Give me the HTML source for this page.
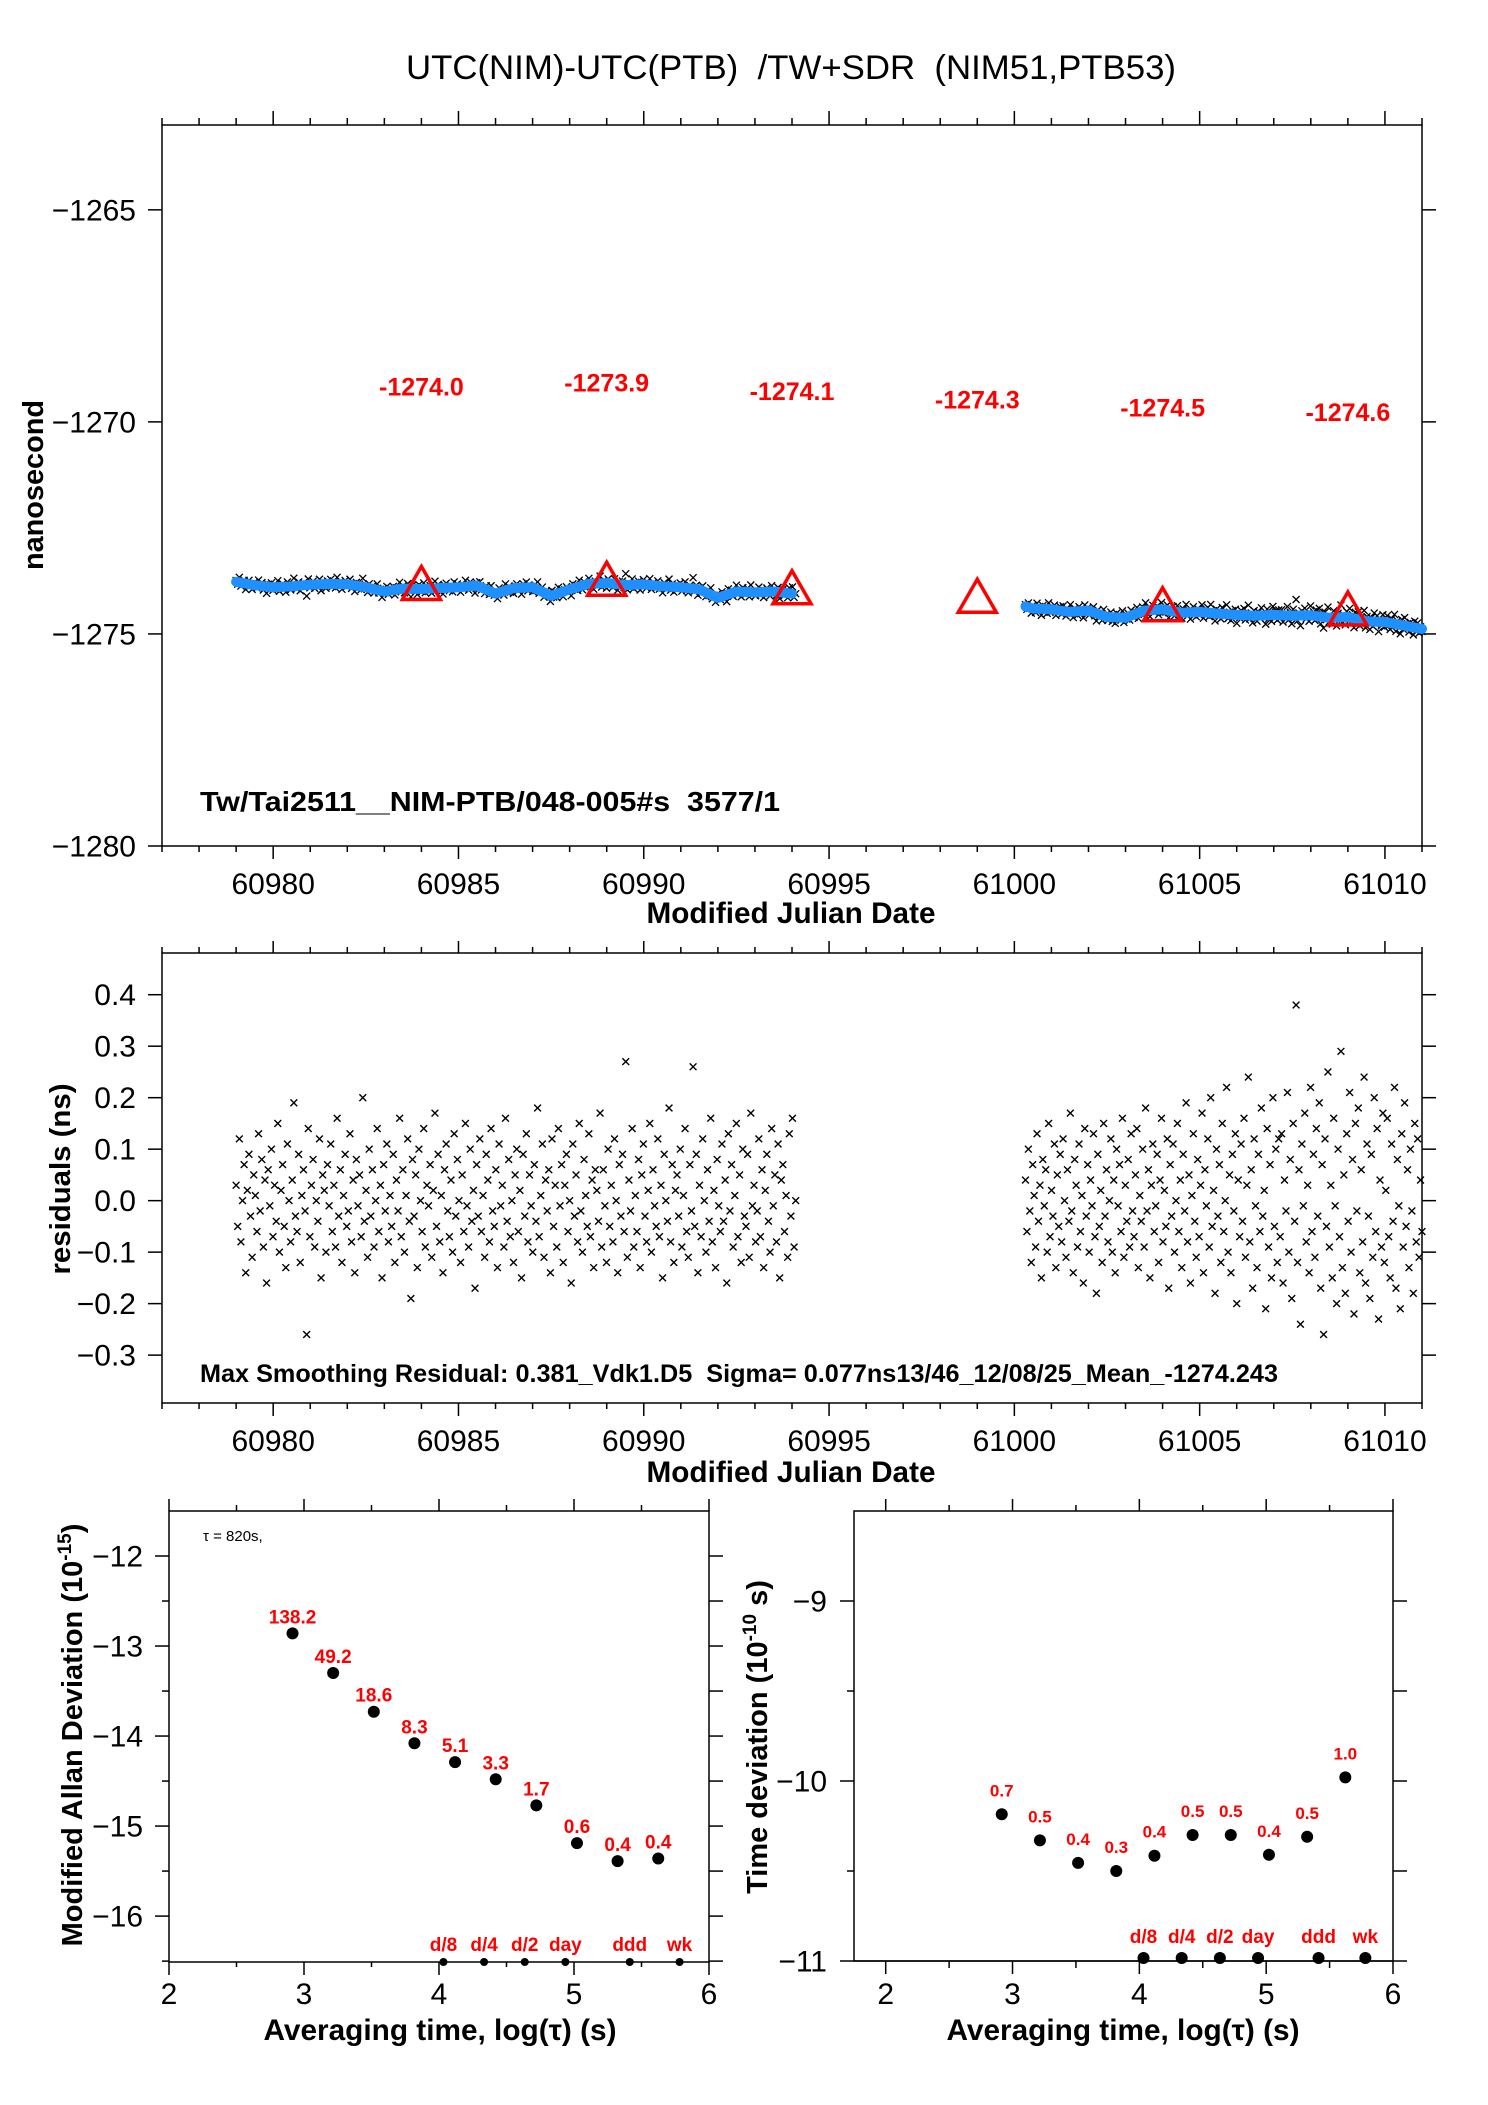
<!DOCTYPE html>
<html><head><meta charset="utf-8"><title>UTC(NIM)-UTC(PTB)</title>
<style>
html,body{margin:0;padding:0;background:#fff;}
svg{display:block;font-family:"Liberation Sans",Arial,sans-serif;}
text{white-space:pre;}
</style></head>
<body>
<svg id="chart" xmlns="http://www.w3.org/2000/svg" width="1488" height="2105" viewBox="0 0 1488 2105">
<rect x="0" y="0" width="1488" height="2105" fill="#fff"/>
</svg>
<script>
// ---------- data ----------
const smoothT1 = [60979.0,60979.5,60980.0,60980.5,60981.0,60981.5,60982.0,60982.5,60983.0,60983.5,60984.0,60984.5,60985.0,60985.5,60986.0,60986.5,60987.0,60987.5,60988.0,60988.5,60989.0,60989.5,60990.0,60990.5,60991.0,60991.5,60992.0,60992.5,60993.0,60993.5,60994.0];
const smoothV1 = [-1273.77,-1273.85,-1273.9,-1273.88,-1273.84,-1273.82,-1273.83,-1273.9,-1274.0,-1273.93,-1273.94,-1273.92,-1273.9,-1273.86,-1274.05,-1273.92,-1273.9,-1274.1,-1273.95,-1273.82,-1273.8,-1273.85,-1273.83,-1273.88,-1273.9,-1273.95,-1274.15,-1274.0,-1274.02,-1274.0,-1274.05];
const smoothT2 = [61000.3,61000.5,61001.0,61001.5,61002.0,61002.5,61003.0,61003.5,61004.0,61004.5,61005.0,61005.5,61006.0,61006.5,61007.0,61007.5,61008.0,61008.5,61009.0,61009.5,61010.0,61010.5,61011.0];
const smoothV2 = [-1274.35,-1274.4,-1274.42,-1274.48,-1274.45,-1274.6,-1274.62,-1274.45,-1274.42,-1274.5,-1274.48,-1274.52,-1274.55,-1274.57,-1274.55,-1274.57,-1274.56,-1274.62,-1274.6,-1274.7,-1274.72,-1274.8,-1274.88];
const seg1Range = [60979.0, 60994.1];
const seg2Range = [61000.3, 61011.0];
// residuals in units of 0.01 ns
const res1 = [
3,-5,12,-8,0,7,-14,2,9,-3,-11,5,1,-6,13,-2,8,-9,4,-16,6,-1,10,-7,3,
-4,15,-10,2,7,-5,-13,11,0,-8,4,19,-3,-6,9,-12,1,6,-2,-26,14,-7,3,8,-9,
0,-4,12,-15,5,2,-10,7,-1,11,-6,3,-9,16,-3,6,-12,1,9,-5,-2,13,-8,4,-14,
8,-1,5,-7,20,-4,2,-11,10,-3,6,-9,0,14,-6,3,-15,7,-2,11,-8,1,-5,9,-12,
4,-2,16,-7,6,-10,1,12,-4,-19,8,-3,5,-13,10,0,-6,14,-9,3,-1,7,-11,2,17,
-5,9,-8,1,-14,6,11,-2,-7,4,-10,13,-3,8,0,-12,5,-6,15,-1,-9,10,-4,2,-17,
7,-3,12,-6,1,-11,9,4,-8,14,-2,-5,6,-13,11,-1,3,-9,16,-4,8,-7,0,-12,5,
10,-6,2,-15,9,-3,13,-8,5,-1,-10,7,-4,18,-7,1,11,-11,4,-2,6,-14,12,-5,3,
-9,14,-1,7,-12,3,9,-6,0,-16,11,-3,5,-8,15,-2,-10,8,1,-5,13,-7,4,-13,6,
2,-4,17,-9,6,-1,-12,10,-5,3,-8,12,0,-14,7,-3,9,-6,27,-11,4,-2,14,-9,1,
-6,8,-13,5,11,-3,-8,2,15,-10,6,-1,-5,12,-7,3,-15,9,0,-4,18,-8,7,-12,2,
5,-3,10,-9,1,14,-6,-11,7,-2,26,-5,9,-14,3,-7,12,0,-10,6,-4,16,-8,2,-13,
8,-1,-6,11,-4,4,-16,13,-2,7,-9,1,15,-7,5,-12,10,-3,-5,9,-11,17,-1,3,-8,
-2,12,-7,6,-13,2,9,-4,-10,14,-1,5,-8,11,-15,4,7,-6,1,-11,13,-3,16,-9,0];
const res2 = [
4,-6,10,-2,-12,7,1,-9,13,-4,3,-15,8,-1,6,-10,15,-7,2,-3,11,-13,5,-5,9,
-8,12,0,-11,6,-4,17,-2,-14,8,3,-9,11,-6,1,-16,14,-3,7,-10,4,-1,13,-7,-18,
9,-5,2,-12,15,-3,6,-8,0,12,-10,4,-14,10,-1,7,-6,16,-11,3,-4,8,-9,13,-2,
-7,5,14,-13,1,-4,10,-9,18,-2,6,-15,3,11,-6,-1,9,-12,4,16,-8,2,-5,12,-17,
7,-3,11,-10,0,15,-6,4,-13,9,-2,19,-8,5,-16,1,13,-4,-11,8,-7,3,17,-14,6,
-1,12,-9,20,-5,2,-18,10,-3,7,-12,15,-6,0,22,-10,5,-14,9,-2,13,-20,4,-7,11,
-4,16,-11,3,24,-8,6,-17,12,-1,-13,9,-6,18,-3,2,-21,14,-9,7,-15,20,-5,10,-12,
12,-7,13,-16,4,-2,21,-10,8,-19,15,-4,38,-12,6,-24,11,-1,17,-8,3,-14,22,-6,9,
-11,14,-3,19,-17,7,-26,12,-5,25,-9,3,-15,16,-1,-20,10,-7,29,-13,5,-18,13,-4,21,
-10,8,-22,15,-2,18,-14,6,-8,24,-16,11,-3,-19,9,-11,20,-6,14,-23,4,-9,17,-12,2,
16,-7,-15,11,-4,22,-17,8,-1,-21,13,-9,19,-5,6,-13,10,-2,-18,15,-8,12,-11,4,-6];
const triMjd = [60984,60989,60994,60999,61004,61009];
const triVal = [-1274.0,-1273.9,-1274.1,-1274.3,-1274.5,-1274.6];
const topYTicks = [-1265,-1270,-1275,-1280];
const topYTickLabels = ["\u22121265","\u22121270","\u22121275","\u22121280"];
const mjdTickLabels = ["60980","60985","60990","60995","61000","61005","61010"];
const resYTicks = [0.4,0.3,0.2,0.1,0.0,-0.1,-0.2,-0.3];
const resYTickLabels = ["0.4","0.3","0.2","0.1","0.0","\u22120.1","\u22120.2","\u22120.3"];
const tauLog = [2.915,3.216,3.517,3.818,4.119,4.42,4.721,5.022,5.323,5.624];
const adevVal = [-12.86,-13.30,-13.73,-14.08,-14.29,-14.48,-14.77,-15.19,-15.39,-15.36];
const adevLbl = ["138.2","49.2","18.6","8.3","5.1","3.3","1.7","0.6","0.4","0.4"];
const tdevVal = [-10.185,-10.33,-10.455,-10.50,-10.415,-10.30,-10.30,-10.41,-10.31,-9.98];
const tdevLbl = ["0.7","0.5","0.4","0.3","0.4","0.5","0.5","0.4","0.5","1.0"];
const markLog = [4.033,4.334,4.635,4.936,5.413,5.782];
const markLbl = ["d/8","d/4","d/2","day","ddd","wk"];
const adevYTicks = [-12,-13,-14,-15,-16];
const adevYTickLabels = ["\u221212","\u221213","\u221214","\u221215","\u221216"];
const tdevYTicks = [-9,-10,-11];
const tdevYTickLabels = ["\u22129","\u221210","\u221211"];
const logTicks = [2,3,4,5,6];
const logTickLabels = ["2","3","4","5","6"];

// ---------- helpers ----------
const NS = "http://www.w3.org/2000/svg";
const svg = document.getElementById('chart');
function mk(tag, attrs, parent){
  const e = document.createElementNS(NS, tag);
  for (const k in attrs) e.setAttribute(k, attrs[k]);
  (parent || svg).appendChild(e);
  return e;
}
function scale(d0,d1,r0,r1){ return v => r0 + (v-d0)*(r1-r0)/(d1-d0); }
function txt(parent, x, y, s, size, opts){
  opts = opts || {};
  const a = {x:x, y:y, 'font-size':size, fill:opts.fill||'#000', 'text-anchor':opts.anchor||'middle'};
  if (opts.bold) a['font-weight'] = 'bold';
  if (opts.len) { a.textLength = opts.len; a.lengthAdjust = 'spacingAndGlyphs'; }
  if (opts.rot) a.transform = 'rotate(-90 '+x+' '+y+')';
  const t = mk('text', a, parent);
  t.textContent = s;
  return t;
}
function line(parent,x1,y1,x2,y2,w,c){
  return mk('line',{x1:x1,y1:y1,x2:x2,y2:y2,stroke:c||'#000','stroke-width':w||1.5},parent);
}
function interp(ts, vs, t){
  if (t<=ts[0]) return vs[0];
  for (let i=1;i<ts.length;i++){ if (t<=ts[i]) { const f=(t-ts[i-1])/(ts[i]-ts[i-1]); return vs[i-1]+f*(vs[i]-vs[i-1]); } }
  return vs[vs.length-1];
}
function segTimes(range, n){ const a=[]; for(let i=0;i<n;i++) a.push(range[0]+i*(range[1]-range[0])/(n-1)); return a; }
function cross(parent,x,y,h,w){
  mk('path',{d:'M'+(x-h)+' '+(y-h)+'L'+(x+h)+' '+(y+h)+'M'+(x-h)+' '+(y+h)+'L'+(x+h)+' '+(y-h),stroke:'#000','stroke-width':w||1,fill:'none'},parent);
}

// ---------- title ----------
const title = txt(svg, 791, 79, "UTC(NIM)-UTC(PTB)  /TW+SDR  (NIM51,PTB53)", 34, {len:770});



// ================= Panel 1: time series =================
const P1 = {x0:162,x1:1422,y0:125,y1:846};
const p1x = scale(60977,61011,P1.x0,P1.x1);
const p1y = scale(-1280,-1263,P1.y1,P1.y0);
const g1 = mk('g',{});


const f1 = mk('rect',{x:P1.x0,y:P1.y0,width:P1.x1-P1.x0,height:P1.y1-P1.y0,fill:'none',stroke:'#000','stroke-width':1.5},g1);


for (let d=60977; d<=61011; d++){
  const x=p1x(d), maj=(d%5===0);
  line(g1,x,P1.y0,x,P1.y0-(maj?14:7));
  line(g1,x,P1.y1,x,P1.y1+(maj?13:6));
}
topYTicks.forEach((v,i)=>{
  const y=p1y(v);
  line(g1,P1.x0-14,y,P1.x0,y);
  line(g1,P1.x1,y,P1.x1+14,y);
  const t = txt(g1,136,y+10.5,topYTickLabels[i],30,{anchor:'end'});
  
  
});
mjdTickLabels.forEach(s=>{
  const t = txt(g1,p1x(+s),894,s,30);
  
  
});
const xl1 = txt(g1,791,923,"Modified Julian Date",30,{bold:true,len:289});


const yl1 = txt(g1,43,485,"nanosecond",29,{bold:true,rot:true,len:170});


// raw points
const rawG = mk('g',{},g1);


const t1s = segTimes(seg1Range,res1.length), t2s = segTimes(seg2Range,res2.length);
t1s.forEach((t,i)=>{ cross(rawG,p1x(t),p1y(interp(smoothT1,smoothV1,t)+res1[i]/100),3.5,1.3); });
t2s.forEach((t,i)=>{ cross(rawG,p1x(t),p1y(interp(smoothT2,smoothV2,t)+res2[i]/100),3.5,1.3); });
// smoothed
[[smoothT1,smoothV1],[smoothT2,smoothV2]].forEach((s,k)=>{
  const pts = s[0].map((t,i)=>p1x(t).toFixed(1)+','+p1y(s[1][i]).toFixed(1)).join(' ');
  const pl = mk('polyline',{points:pts,fill:'none',stroke:'#1e90ff','stroke-width':10,'stroke-linejoin':'round','stroke-linecap':'round'},g1);
  
  
});
// triangles + labels
triMjd.forEach((m,i)=>{
  const x=p1x(m), y=p1y(triVal[i]);
  const tr = mk('path',{d:'M'+x+' '+(y-25)+'L'+(x+19)+' '+(y+8)+'L'+(x-19)+' '+(y+8)+'Z',fill:'none',stroke:'#ff0000','stroke-width':3.5},g1);
  
  
  const lb = txt(g1,x,y-196,triVal[i].toFixed(1),25,{bold:true,fill:'#ff0000'});
  
  
});
const info1 = txt(g1,200,811,"Tw/Tai2511__NIM-PTB/048-005#s  3577/1",28,{bold:true,anchor:'start',len:580});



// ================= Panel 2: residuals =================
const P2 = {x0:162,x1:1422,y0:953,y1:1403};
const p2x = scale(60977,61011,P2.x0,P2.x1);
const p2y = scale(-0.393,0.481,P2.y1,P2.y0);
const g2 = mk('g',{});


const f2 = mk('rect',{x:P2.x0,y:P2.y0,width:P2.x1-P2.x0,height:P2.y1-P2.y0,fill:'none',stroke:'#000','stroke-width':1.5},g2);


for (let d=60977; d<=61011; d++){
  const x=p2x(d), maj=(d%5===0);
  line(g2,x,P2.y0,x,P2.y0-(maj?12:6));
  line(g2,x,P2.y1,x,P2.y1+(maj?13:6));
}
resYTicks.forEach((v,i)=>{
  const y=p2y(v);
  line(g2,P2.x0-14,y,P2.x0,y);
  line(g2,P2.x1,y,P2.x1+14,y);
  const t = txt(g2,136,y+10.5,resYTickLabels[i],30,{anchor:'end'});
  
  
});
mjdTickLabels.forEach(s=>{
  const t = txt(g2,p2x(+s),1451,s,30);
  
  
});
const xl2 = txt(g2,791,1482,"Modified Julian Date",30,{bold:true,len:289});


const yl2 = txt(g2,70,1179,"residuals (ns)",29,{bold:true,rot:true,len:191});


const resG = mk('g',{},g2);


t1s.forEach((t,i)=>{ cross(resG,p2x(t),p2y(res1[i]/100),3.4,1.4); });
t2s.forEach((t,i)=>{ cross(resG,p2x(t),p2y(res2[i]/100),3.4,1.4); });
const info2 = txt(g2,200,1382,"Max Smoothing Residual: 0.381_Vdk1.D5  Sigma= 0.077ns13/46_12/08/25_Mean_-1274.243",25,{bold:true,anchor:'start',len:1078});



// ================= Panel 3: Modified Allan deviation =================
const P3 = {x0:169,x1:709,y0:1511,y1:1962};
const p3x = scale(2,6,P3.x0,P3.x1);
const p3y = scale(-16.51,-11.5,P3.y1,P3.y0);
const g3 = mk('g',{});


const f3 = mk('rect',{x:P3.x0,y:P3.y0,width:P3.x1-P3.x0,height:P3.y1-P3.y0,fill:'none',stroke:'#000','stroke-width':1.5},g3);


for (let k=0;k<=8;k++){
  const v=2+k*0.5, x=p3x(v), maj=(k%2===0);
  line(g3,x,P3.y0,x,P3.y0-(maj?12:6));
  line(g3,x,P3.y1,x,P3.y1+(maj?13:5));
}
for (let k=0;k<=9;k++){
  const v=-16.5+k*0.5, y=p3y(v), maj=(k%2===1);
  line(g3,P3.x0-(maj?14:7),y,P3.x0,y);
  line(g3,P3.x1,y,P3.x1+14,y);
}
adevYTicks.forEach((v,i)=>{
  const t = txt(g3,143,p3y(v)+10.5,adevYTickLabels[i],30,{anchor:'end'});
  
  
});
logTicks.forEach((v,i)=>{
  const t = txt(g3,p3x(v),2004,logTickLabels[i],30);
  
  
});
const xl3 = txt(g3,440,2040,"Averaging time, log(\u03c4) (s)",30,{bold:true,len:353});


const yl3 = mk('text',{x:82,y:1735,'font-size':29,'font-weight':'bold','text-anchor':'middle',transform:'rotate(-90 82 1735)'},g3);


yl3.appendChild(document.createTextNode("Modified Allan Deviation (10"));
const sup3 = mk('tspan',{dy:-11,'font-size':19},yl3); sup3.textContent="-15";
const end3 = mk('tspan',{dy:11},yl3); end3.textContent=")";
const tau = txt(g3,203,1541,"\u03c4 = 820s,",15,{anchor:'start'});


tauLog.forEach((v,i)=>{
  const x=p3x(v), y=p3y(adevVal[i]);
  const c = mk('circle',{cx:x,cy:y,r:6,fill:'#000'},g3);
  
  
  const l = txt(g3,x,y-10,adevLbl[i],19,{bold:true,fill:'#ff0000'});
  
  
});
markLog.forEach((v,i)=>{
  const x=p3x(v);
  const c = mk('circle',{cx:x,cy:P3.y1,r:4,fill:'#000'},g3);
  
  
  const l = txt(g3,x,1951,markLbl[i],19,{bold:true,fill:'#ff0000'});
  
  
});

// ================= Panel 4: Time deviation =================
const P4 = {x0:854,x1:1393,y0:1511,y1:1961};
const p4x = scale(1.75,6,P4.x0,P4.x1);
const p4y = scale(-11,-8.5,P4.y1,P4.y0);
const g4 = mk('g',{});


const f4 = mk('rect',{x:P4.x0,y:P4.y0,width:P4.x1-P4.x0,height:P4.y1-P4.y0,fill:'none',stroke:'#000','stroke-width':1.5},g4);


for (let k=0;k<=8;k++){
  const v=2+k*0.5, x=p4x(v), maj=(k%2===0);
  line(g4,x,P4.y0,x,P4.y0-(maj?12:6));
  line(g4,x,P4.y1,x,P4.y1+(maj?13:7));
}
for (let k=0;k<=4;k++){
  const v=-11+k*0.5, y=p4y(v), maj=(k%2===0);
  line(g4,P4.x0-(maj?14:7),y,P4.x0,y);
  line(g4,P4.x1,y,P4.x1+14,y);
}
tdevYTicks.forEach((v,i)=>{
  const t = txt(g4,827,p4y(v)+10.5,tdevYTickLabels[i],30,{anchor:'end'});
  
  
});
logTicks.forEach((v,i)=>{
  const t = txt(g4,p4x(v),2004,logTickLabels[i],30);
  
  
});
const xl4 = txt(g4,1123,2040,"Averaging time, log(\u03c4) (s)",30,{bold:true,len:353});


const yl4 = mk('text',{x:767,y:1737,'font-size':29,'font-weight':'bold','text-anchor':'middle',transform:'rotate(-90 767 1737)'},g4);


yl4.appendChild(document.createTextNode("Time deviation (10"));
const sup4 = mk('tspan',{dy:-11,'font-size':19},yl4); sup4.textContent="-10";
const end4 = mk('tspan',{dy:11},yl4); end4.textContent=" s)";
tauLog.forEach((v,i)=>{
  const x=p4x(v), y=p4y(tdevVal[i]);
  const c = mk('circle',{cx:x,cy:y,r:6,fill:'#000'},g4);
  
  
  const l = txt(g4,x,y-18,tdevLbl[i],17,{bold:true,fill:'#ff0000'});
  
  
});
markLog.forEach((v,i)=>{
  const x=p4x(v);
  const c = mk('circle',{cx:x,cy:1958,r:6,fill:'#000'},g4);
  
  
  const l = txt(g4,x,1943,markLbl[i],19,{bold:true,fill:'#ff0000'});
  
  
});
line(g4,P4.x0,P4.y1,P4.x1,P4.y1,1.5);
</script>
</body></html>
